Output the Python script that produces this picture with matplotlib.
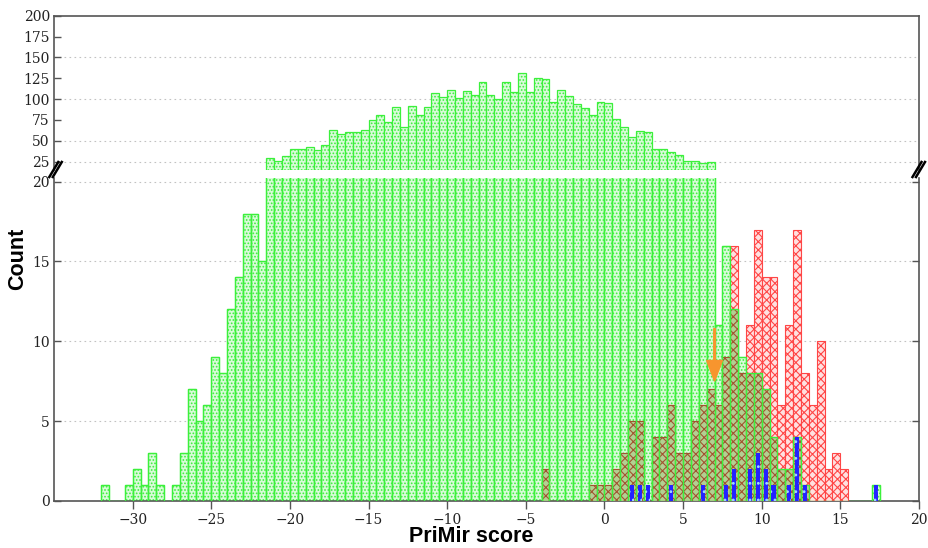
"""
plot.py
PriMir score histogram with broken y axis.
"""

import numpy as np
import matplotlib
matplotlib.use("Agg")
import matplotlib.pyplot as plt
from matplotlib.lines import Line2D

plt.rcParams["font.family"] = "DejaVu Serif"
plt.rcParams["hatch.linewidth"] = 0.8

# ---- data (bin width 0.5, left edges) ----
BIN = 0.5
green_left = np.arange(-32.0, 17.5, BIN)
green_counts = np.array([
    1, 0, 0, 1, 2, 1, 3, 1, 0, 1, 3, 7, 5, 6, 9, 8, 12, 14, 18, 18, 15,
    29, 26, 32, 40, 40, 43, 39, 45, 63, 58, 60, 61, 63, 75, 81, 73, 90, 66,
    92, 81, 91, 107, 102, 111, 101, 110, 105, 120, 105, 100,
    121, 108, 131, 108, 125, 124, 96, 111, 104, 94, 89, 81, 97, 95, 76, 67,
    54, 62, 61, 40, 40, 37, 33, 26, 26, 23, 25,
    11, 16, 12, 9, 8, 8, 7, 4, 2, 2, 4, 1,
    0, 0, 0, 0, 0, 0, 0, 0,
    1,
])

red_left = np.arange(-4.0, 15.5, BIN)
red_counts = np.array([
    2, 0, 0, 0, 0, 0, 1, 1, 1, 2, 3, 5, 5, 0, 4, 4, 6, 3, 3, 5, 6, 7, 6, 9,
    16, 8, 11, 17, 14, 14, 6, 11, 17, 8, 6, 10, 2, 3, 2,
])

blue_left = np.array([1.5, 2.0, 2.5, 4.0, 6.0, 7.5, 8.0, 9.0, 9.5, 10.0,
                      10.5, 11.5, 12.0, 12.5, 17.0])
blue_counts = np.array([1, 1, 1, 1, 1, 1, 2, 2, 3, 2, 1, 1, 4, 1, 1])

arrow_x = 7.0
arrow_y0, arrow_y1 = 10.8, 7.5

# ---- layout in pixels ----
W, H = 929, 548


def box(l, t, r, b):
    return [l / W, 1 - b / H, (r - l) / W, (b - t) / H]


fig = plt.figure(figsize=(W / 100, H / 100), dpi=100)
ax_top = fig.add_axes(box(54, 15.7, 919, 169.5))
ax_bot = fig.add_axes(box(54, 177.5, 919, 501))

GREEN = dict(color="#d9fbd9", edgecolor="#3cf03c", hatch=".....", linewidth=0.9)
RED = dict(color="#ffe0e0", edgecolor="#ff4646", hatch="xxxx", linewidth=0.8)
BROWN = dict(color="#b4cf92", edgecolor="#a2532f", hatch="xxxx", linewidth=0.8)
BLUE = dict(color="#2323ff", edgecolor="#9fd8ff", hatch="..", linewidth=0)

grid_kw = dict(color="#c2c2c2", lw=0.8, ls=(0, (1.5, 3)), zorder=0)
spine_col = "#555555"

# green under red where both overlap -> brownish mix
green_at_red = np.array([green_counts[np.isclose(green_left, x)][0] for x in red_left])
overlap = np.minimum(green_at_red, red_counts)

# lower panel
ax_bot.bar(green_left, green_counts, BIN, align="edge", zorder=2, **GREEN)
ax_bot.bar(red_left, red_counts, BIN, align="edge", zorder=3, **RED)
ax_bot.bar(red_left, overlap, BIN, align="edge", zorder=3.5, **BROWN)
ax_bot.bar(green_left, green_counts, BIN, align="edge", zorder=3.6,
           fill=False, edgecolor="#3cf03c", linewidth=0.9)
ax_bot.bar(blue_left + BIN / 2, blue_counts, 0.26, align="center", zorder=4, **BLUE)
ax_bot.arrow(arrow_x, arrow_y0, 0, arrow_y1 - arrow_y0, width=0.1,
             head_width=1.0, head_length=1.3, length_includes_head=True,
             fc="#f7952e", ec="#f7952e", zorder=6)
for y in [5, 10, 15, 20]:
    ax_bot.axhline(y, **grid_kw)
ax_bot.set_xlim(-35, 20)
ax_bot.set_ylim(0, 20.26)
ax_bot.set_xticks(range(-30, 21, 5))
ax_bot.set_yticks([0, 5, 10, 15, 20])

# upper panel: only bins that run past the break
upper_counts = np.where(green_counts > 20, green_counts, 0)
ax_top.bar(green_left, upper_counts, BIN, align="edge", zorder=2, **GREEN)
for y in [25, 50, 100, 150]:
    ax_top.axhline(y, **grid_kw)
ax_top.set_xlim(-35, 20)
ax_top.set_ylim(15.6, 200)
ax_top.set_yticks(range(25, 201, 25))
ax_top.set_xticks([])

for ax in (ax_top, ax_bot):
    for s in ax.spines.values():
        s.set_color(spine_col)
        s.set_linewidth(1.2)
    ax.tick_params(axis="y", direction="in", length=5, width=1,
                   color=spine_col, labelsize=10, pad=3, labelcolor="#222222")
ax_top.spines["bottom"].set_visible(False)
ax_bot.spines["top"].set_visible(False)
ax_bot.tick_params(axis="x", direction="out", length=6, width=1,
                   color=spine_col, labelsize=10, pad=3, labelcolor="#222222")
ax_bot.tick_params(axis="y", right=True)

# break marks
for x0 in (49.3, 52.8, 912.5, 916.0):
    xs = [x0 / W, (x0 + 9) / W]
    ys = [1 - 177 / H, 1 - 162 / H]
    fig.add_artist(Line2D(xs, ys, transform=fig.transFigure,
                          color="black", lw=1.8))

fig.text(18 / W, 1 - 259 / H, "Count", rotation=90, ha="center", va="center",
         fontsize=15.5, fontweight="bold", family="Liberation Sans")
fig.text(471.5 / W, 1 - 542 / H, "PriMir score", ha="center", va="baseline",
         fontsize=15.5, fontweight="bold", family="Liberation Sans")

fig.savefig("out.png", dpi=100)
plt.close(fig)
